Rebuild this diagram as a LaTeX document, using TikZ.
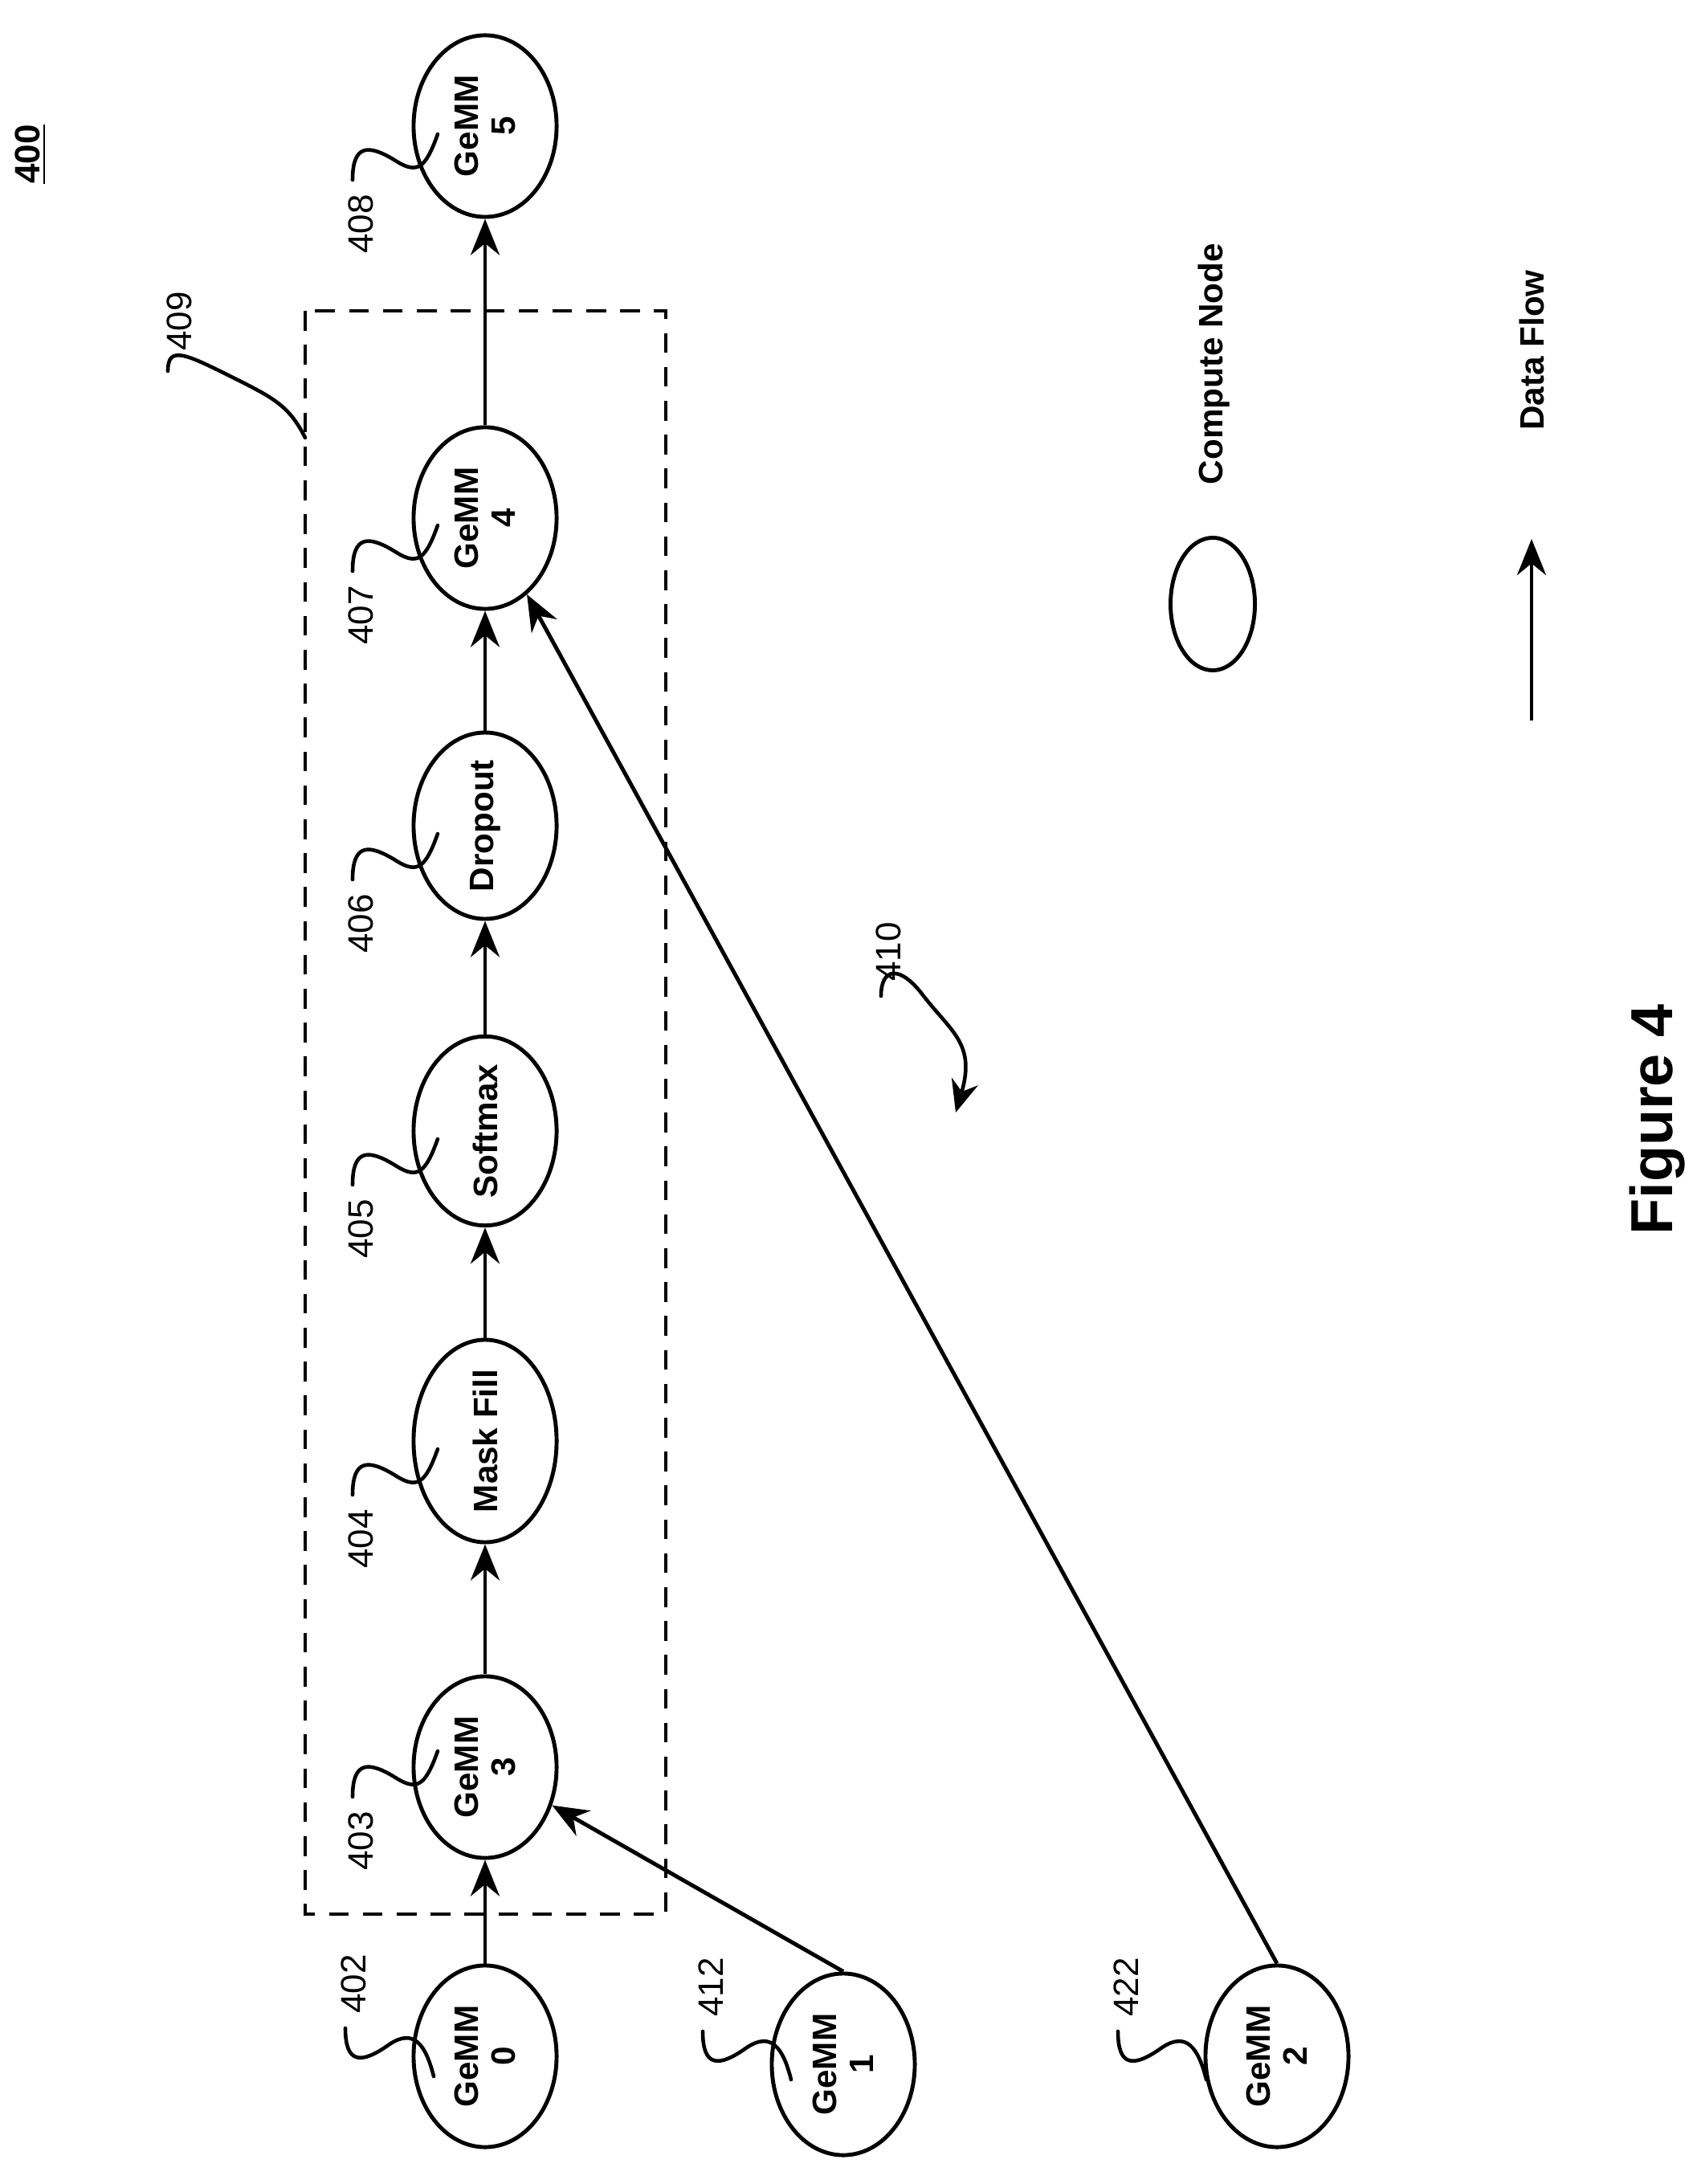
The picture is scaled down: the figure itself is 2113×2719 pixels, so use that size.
\documentclass[tikz,border=0pt]{standalone}
\usepackage{fontspec}
\setmainfont{Liberation Sans}
\usetikzlibrary{shapes.geometric,arrows.meta}

\tikzset{
    cnode/.style = {draw, ellipse, line width=1.4pt, rotate=90,
        minimum width=2.26cm, minimum height=1.78cm, inner sep=0pt,
        align=center, font=\fontsize{12}{13}\selectfont\bfseries},
    flow/.style  = {line width=1.4pt, -{Stealth[length=4.5mm,width=3.6mm]}},
    ref/.style   = {rotate=90, font=\fontsize{12.5}{13}\selectfont},
    lead/.style  = {line width=1.3pt, line cap=round},
}

\begin{document}
\begin{tikzpicture}[x=0.01cm, y=-0.01cm]
    \useasboundingbox (0,0) rectangle (2113,2719);

    % compute nodes
    \node[cnode] (g0) at (604,2560) {GeMM\\0};
    \node[cnode] (g1) at (1050,2570) {GeMM\\1};
    \node[cnode] (g2) at (1590,2560) {GeMM\\2};
    \node[cnode] (g3) at (604,2200) {GeMM\\3};
    \node[cnode] (mask) at (604,1794) {Mask Fill};
    \node[cnode] (soft) at (604,1408) {Softmax};
    \node[cnode] (drop) at (604,1028) {Dropout};
    \node[cnode] (g4) at (604,645) {GeMM\\4};
    \node[cnode] (g5) at (604,157) {GeMM\\5};

    % fused region
    \draw[line width=1.4pt, dash pattern=on 7pt off 5pt] (380,387) rectangle (829,2383);

    % data flow
    \draw[flow] (g0) -- (g3);
    \draw[flow] (g3) -- (mask);
    \draw[flow] (mask) -- (soft);
    \draw[flow] (soft) -- (drop);
    \draw[flow] (drop) -- (g4);
    \draw[flow] (g4) -- (g5);
    \draw[flow] (g1.east) -- (g3);
    \draw[flow] (g2.east) -- (g4);

    % reference numerals, leader below the text
    \foreach \n/\x/\y in {402/440/2470, 412/885/2474, 422/1402/2474} {
        \node[ref] (r\n) at (\x,\y) {\n};
        \draw[lead] (\x-10,\y+55) .. controls (\x-10,\y+100) and (\x+10,\y+100)
            .. (\x+45,\y+75) .. controls (\x+75,\y+55) and (\x+90,\y+75) .. (\x+100,\y+115);
    }
    % reference numerals, leader above the text
    \foreach \n/\y in {403/2292, 404/1916, 405/1530, 406/1150, 407/766, 408/279} {
        \node[ref] (r\n) at (449,\y) {\n};
        \draw[lead] (439,\y-55) .. controls (439,\y-100) and (459,\y-100)
            .. (494,\y-78) .. controls (520,\y-62) and (530,\y-70) .. (545,\y-112);
    }

    \node[ref] (r409) at (223,400) {409};
    \draw[lead] (209,462) .. controls (209,430) and (230,440) .. (290,470)
        .. controls (340,495) and (360,505) .. (380,545);

    \node[ref] (r410) at (1106,1185) {410};
    \coordinate (a410) at (1190,1385);
    \draw[lead, -{Stealth[length=4mm,width=3.4mm]}] (1097,1240)
        .. controls (1097,1205) and (1120,1200) .. (1150,1240)
        .. controls (1185,1285) and (1215,1300) .. (a410);

    % legend
    \node[draw, ellipse, line width=1.4pt, minimum width=1.05cm, minimum height=1.65cm] (leg) at (1510,752) {};
    \node[ref, font=\fontsize{12}{13}\selectfont\bfseries] (legtxt) at (1512,453) {Compute Node};
    \coordinate (fa) at (1907,897);
    \coordinate (fb) at (1907,671);
    \draw[flow] (fa) -- (fb);
    \node[ref, font=\fontsize{12}{13}\selectfont\bfseries] (flowtxt) at (1907,436) {Data Flow};

    \node[ref, font=\fontsize{12.5}{13}\selectfont\bfseries] (num) at (38,192) {\underline{400}};
    \node[ref, font=\fontsize{21}{22}\selectfont\bfseries] (fig) at (2064,1394) {Figure 4};
\end{tikzpicture}
\end{document}
